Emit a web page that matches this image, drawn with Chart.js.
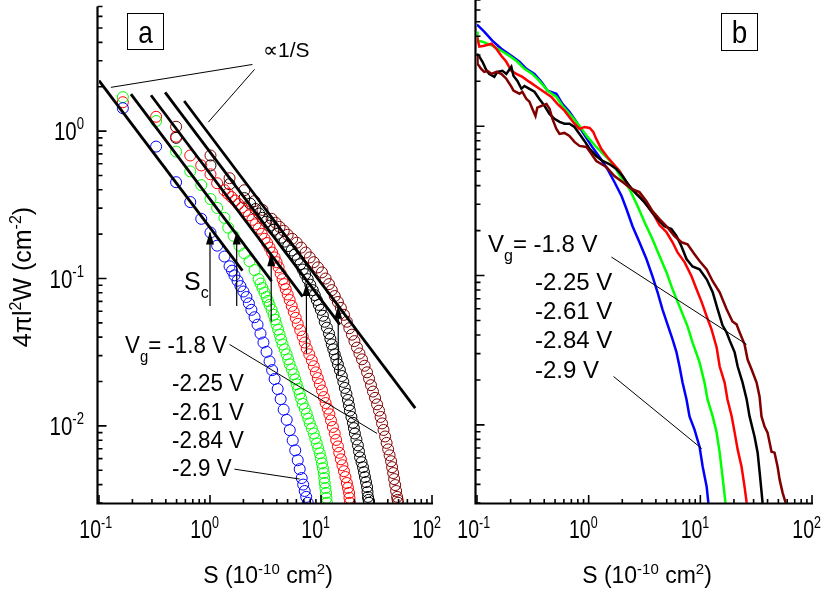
<!DOCTYPE html>
<html>
<head>
<meta charset="utf-8">
<script src="https://cdn.jsdelivr.net/npm/chart.js@4/dist/chart.umd.min.js"></script>
<style>
  body { margin: 0; background: #fff; }
  #wrap { position: relative; width: 830px; height: 591px; }
  canvas { position: absolute; top: 0; }
  #chartA { left: 0; }
  #chartB { left: 455px; }
</style>
</head>
<body>
<div id="wrap">
  <canvas id="chartA" width="455" height="591"></canvas>
  <canvas id="chartB" width="375" height="591"></canvas>
</div>
<script>
// ---- panel a : model curves (open circles), S in 1e-10 cm^2, W in cm^-2
const aBlueS = [0.164,0.327,0.495,0.664,0.834,1.01,1.16,1.35,1.50,1.58,1.66,1.77,1.88,2.00,2.13,2.24,2.36,2.52,2.68,2.85,3.03,3.23,3.44,3.63,3.82,4.07,4.33,4.61,4.91,5.23,5.56,5.86,6.17,6.43,6.70,6.91,7.13,7.36,7.59];
const aBlueW = [1.43,0.785,0.450,0.330,0.254,0.205,0.167,0.141,0.121,0.113,0.105,0.0966,0.0888,0.0816,0.0749,0.0678,0.0613,0.0546,0.0486,0.0423,0.0368,0.0318,0.0274,0.0239,0.0208,0.0178,0.0152,0.0129,0.0110,0.00936,0.00797,0.00683,0.00585,0.00509,0.00443,0.00400,0.00362,0.00330,0.00301];
const aGreenS = [0.164,0.327,0.495,0.664,0.834,1.01,1.16,1.35,1.46,1.63,1.84,2.04,2.27,2.52,2.74,2.85,2.97,3.10,3.23,3.33,3.44,3.59,3.74,3.86,3.98,4.11,4.24,4.37,4.51,4.70,4.90,5.06,5.22,5.45,5.68,5.86,6.04,6.23,6.43,6.63,6.84,7.14,7.44,7.68,7.93,8.27,8.61,8.88,9.16,9.45,9.75,9.97,10.2,10.4,10.6,10.7,10.8,10.95,11.1,11.2,11.3];
const aGreenW = [1.70,1.17,0.726,0.533,0.430,0.346,0.301,0.258,0.221,0.195,0.167,0.148,0.131,0.114,0.0989,0.0923,0.0861,0.0803,0.0749,0.0704,0.0662,0.0613,0.0567,0.0525,0.0486,0.0450,0.0416,0.0385,0.0357,0.0331,0.0306,0.0283,0.0262,0.0242,0.0224,0.0207,0.0192,0.0178,0.0165,0.0153,0.0141,0.0131,0.0121,0.0112,0.0104,0.00961,0.00888,0.00822,0.00761,0.00704,0.00652,0.00603,0.00558,0.00517,0.00479,0.00443,0.00410,0.00379,0.00351,0.00325,0.00301];
const aRedS = [0.164,0.327,0.495,0.664,0.834,1.01,1.16,1.35,1.45,1.56,1.68,1.80,1.94,2.08,2.24,2.41,2.57,2.74,2.92,3.10,3.27,3.44,3.63,3.82,3.98,4.15,4.33,4.51,4.66,4.81,5.01,5.22,5.45,5.68,5.92,6.17,6.50,6.84,7.14,7.44,7.84,8.26,8.61,8.98,9.36,9.75,10.2,10.6,11.0,11.5,11.9,12.3,12.8,13.3,13.7,14.2,14.6,15.1,15.6,16.1,16.6,17.1,17.5,17.9,18.05,18.2];
const aRedW = [1.57,1.25,0.916,0.683,0.585,0.509,0.443,0.397,0.376,0.357,0.338,0.320,0.303,0.287,0.268,0.250,0.233,0.218,0.201,0.186,0.174,0.162,0.150,0.139,0.129,0.119,0.108,0.0989,0.0916,0.0848,0.0779,0.0715,0.0652,0.0594,0.0541,0.0493,0.0446,0.0404,0.0368,0.0335,0.0306,0.0279,0.0254,0.0231,0.0211,0.0192,0.0174,0.0157,0.0143,0.0131,0.0120,0.0109,0.00984,0.00888,0.00803,0.00726,0.00657,0.00594,0.00541,0.00493,0.00450,0.00410,0.00380,0.00351,0.00325,0.00301];
const aBlackS = [0.495,1.01,1.50,2.04,2.30,2.57,2.77,2.97,3.20,3.44,3.75,4.06,4.37,4.70,5.06,5.44,5.80,6.17,6.50,6.84,7.20,7.59,8.00,8.43,8.79,9.16,9.55,9.96,10.4,10.8,11.3,11.8,12.15,12.5,12.9,13.3,13.75,14.2,14.8,15.4,15.9,16.4,16.95,17.5,17.85,18.2,18.8,19.4,19.8,20.2,20.85,21.5,22.0,22.5,23.2,23.9,24.4,24.9,25.45,26.0,26.25,26.5,26.8,27.1];
const aBlackW = [0.90,0.585,0.436,0.351,0.322,0.296,0.276,0.258,0.243,0.228,0.214,0.201,0.189,0.178,0.166,0.155,0.145,0.135,0.125,0.115,0.107,0.0989,0.0908,0.0834,0.0772,0.0715,0.0662,0.0613,0.0559,0.0509,0.0464,0.0423,0.0389,0.0357,0.0331,0.0306,0.0283,0.0262,0.0239,0.0218,0.0199,0.0181,0.0165,0.0150,0.0138,0.0127,0.0115,0.0105,0.00966,0.00888,0.00810,0.00738,0.00672,0.00612,0.00567,0.00525,0.00486,0.00450,0.00416,0.00385,0.00356,0.00330,0.00315,0.00301];
const aBrownS = [0.495,1.01,1.50,2.04,2.52,2.97,3.59,3.90,4.24,4.62,5.01,5.50,6.04,6.63,7.28,7.92,8.61,9.37,10.2,11.0,11.8,12.5,13.3,14.2,15.1,16.1,17.1,18.0,19.0,20.0,21.1,22.2,23.4,24.7,26.0,27.1,28.2,29.4,30.7,32.0,33.3,34.4,35.5,36.6,37.8,39.0,40.3,41.5,42.8,43.7,44.7,45.6,46.6,47.5,48.5,49.0,49.5];
const aBrownW = [1.07,0.683,0.479,0.397,0.335,0.292,0.254,0.239,0.224,0.211,0.198,0.186,0.175,0.162,0.150,0.139,0.129,0.119,0.110,0.100,0.0916,0.0834,0.0760,0.0693,0.0632,0.0567,0.0509,0.0460,0.0416,0.0376,0.0340,0.0310,0.0283,0.0256,0.0231,0.0209,0.0189,0.0171,0.0155,0.0140,0.0127,0.0115,0.0104,0.00939,0.00848,0.00767,0.00693,0.00632,0.00576,0.00525,0.00479,0.00436,0.00397,0.00362,0.00330,0.00315,0.00301];

// 1/S guide lines (start / end of each segment)
const fitS0 = [0.1, 0.194, 0.294, 0.394, 0.585];
const fitW0 = [2.2, 1.78, 1.75, 1.83, 1.60];
const fitS1 = [1.96, 3.59, 6.84, 14.8, 70.6];
const fitW1 = [0.113, 0.0961, 0.0753, 0.0487, 0.0132];

// S_c arrows
const scS = [1.0, 1.74, 3.56, 7.39, 14.3];
const scLow = [0.0652, 0.0652, 0.0509, 0.0310, 0.0221];
const scTip = [0.205, 0.205, 0.146, 0.0916, 0.0642];

// ---- panel b : measured distributions
const bBlueS = [0.1,0.116,0.137,0.165,0.203,0.240,0.277,0.327,0.378,0.428,0.514,0.582,0.673,0.778,0.880,1.06,1.25,1.47,1.70,1.97,2.18,2.47,2.85,3.29,3.73,4.14,4.58,5.08,5.64,6.12,6.51,6.93,7.52,8.00,8.87,9.84,10.5,11.4,11.8];
const bBlueW = [4.79,4.30,3.74,3.30,2.96,2.70,2.42,2.24,1.98,1.73,1.65,1.41,1.25,1.07,0.916,0.738,0.622,0.517,0.423,0.341,0.279,0.214,0.167,0.129,0.0989,0.0773,0.0594,0.0471,0.0374,0.0306,0.0246,0.0192,0.0148,0.0114,0.00930,0.00715,0.00525,0.00385,0.00301];
const bGreenS = [0.1,0.101,0.112,0.137,0.165,0.195,0.230,0.266,0.313,0.362,0.428,0.514,0.582,0.701,0.828,0.976,1.17,1.44,1.67,1.89,2.32,2.74,3.16,3.73,4.31,4.98,5.64,6.51,7.68,8.51,9.84,10.9,11.6,12.9,14.0,14.9,15.8,16.8];
const bGreenW = [4.30,3.74,3.68,3.46,3.20,2.96,2.70,2.42,2.24,2.01,1.73,1.57,1.37,1.17,1.005,0.848,0.726,0.622,0.550,0.471,0.380,0.292,0.228,0.175,0.135,0.105,0.0809,0.0622,0.0457,0.0357,0.0262,0.0192,0.0148,0.0114,0.00888,0.00652,0.00450,0.00301];
const bRedS = [0.1,0.105,0.116,0.135,0.149,0.165,0.183,0.203,0.225,0.255,0.295,0.341,0.385,0.464,0.525,0.607,0.673,0.746,0.828,0.917,1.02,1.10,1.17,1.30,1.47,1.67,1.89,2.14,2.47,2.85,3.36,3.89,4.31,4.98,5.64,6.25,7.22,8.34,9.25,10.3,11.4,12.6,14.0,14.9,16.5,17.5,19.1,20.3,21.6,23.4,24.9,26.0];
const bRedW = [3.97,3.41,3.46,3.57,3.30,2.96,2.70,2.35,2.24,2.14,1.98,1.84,1.73,1.57,1.41,1.27,1.15,1.04,0.959,0.989,0.974,0.916,0.822,0.704,0.622,0.558,0.501,0.430,0.374,0.341,0.292,0.250,0.218,0.195,0.167,0.143,0.123,0.0989,0.0809,0.0662,0.0533,0.0436,0.0330,0.0246,0.0192,0.0148,0.0114,0.00888,0.00683,0.00525,0.00385,0.00301];
const bBlackS = [0.1,0.105,0.112,0.122,0.129,0.143,0.152,0.169,0.183,0.203,0.212,0.230,0.250,0.266,0.295,0.327,0.362,0.402,0.446,0.494,0.548,0.607,0.673,0.746,0.828,0.917,1.02,1.17,1.33,1.53,1.77,2.01,2.32,2.68,3.16,3.65,4.13,4.77,5.51,6.11,6.77,7.52,8.51,9.84,11.4,12.9,14.3,15.8,17.2,18.3,20.3,21.6,23.9,26.0,27.6,30.6,32.6,34.0,35.4,36.1];
const bBlackW = [3.06,2.92,2.70,2.35,2.24,2.14,2.31,2.35,2.24,2.50,2.18,2.01,1.78,1.86,1.78,1.70,1.52,1.37,1.21,1.12,1.07,1.04,1.04,0.989,0.888,0.797,0.704,0.632,0.585,0.558,0.517,0.464,0.397,0.351,0.310,0.270,0.239,0.214,0.205,0.184,0.157,0.129,0.115,0.110,0.0944,0.0773,0.0594,0.0464,0.0416,0.0368,0.0306,0.0246,0.0192,0.0148,0.0114,0.00834,0.00652,0.00479,0.00351,0.00301];
const bBrownS = [0.1,0.101,0.109,0.116,0.124,0.135,0.149,0.165,0.183,0.203,0.212,0.240,0.255,0.277,0.295,0.313,0.334,0.347,0.378,0.419,0.446,0.474,0.514,0.548,0.607,0.673,0.746,0.828,0.955,1.06,1.17,1.44,1.70,2.01,2.42,2.85,3.29,3.73,4.31,4.98,5.87,6.78,7.68,8.87,9.84,11.4,12.9,14.9,17.2,19.4,21.1,22.5,24.9,26.5,28.8,31.9,33.9,35.3,37.6,40.0,43.4,46.2,49.2,51.3,54.6,58.1];
const bBrownW = [2.96,2.62,2.42,2.31,2.35,2.24,2.31,2.24,2.08,1.84,1.73,1.65,1.70,1.52,1.46,1.31,1.17,1.33,1.37,1.41,1.31,1.12,0.959,0.888,0.902,0.861,0.785,0.738,0.726,0.652,0.585,0.533,0.464,0.423,0.380,0.362,0.315,0.270,0.239,0.214,0.184,0.167,0.162,0.139,0.125,0.110,0.0916,0.0773,0.0594,0.0493,0.0471,0.0416,0.0346,0.0274,0.0235,0.0192,0.0155,0.0114,0.00975,0.00888,0.00662,0.00652,0.00525,0.00430,0.00351,0.00301];

// axis ticks
const xDecades = [0.1, 1, 10, 100];
const xExps = ['-1', '0', '1', '2'];
const yDecades = [0.001, 0.01, 0.1, 1];
const yExps = ['-3', '-2', '-1', '0'];

// annotation pointer lines [S0, W0, S1, W1]
const leadA = [[0.128, 1.98, 2.41, 2.83], [2.52, 2.62, 0.966, 1.15], [1.50, 0.0357, 32.0, 0.00889], [1.66, 0.00509, 6.43, 0.00436]];
const leadB = [[1.60, 0.133, 25.9, 0.0346], [1.67, 0.0211, 10.3, 0.00694]];

const voltages = ['-1.8 V', '-2.25 V', '-2.61 V', '-2.84 V', '-2.9 V'];

const COL = { blue: '#0000ff', green: '#00ff00', red: '#ff0000', black: '#000000', brown: '#800000' };
const FONT = '"Liberation Sans", Arial, sans-serif';

function pts(s, w) {
  const out = [];
  for (let i = 0; i < Math.min(s.length, w.length); i++) out.push({ x: s[i], y: w[i] });
  return out;
}

// text with sub/superscripts: parts = [[text, size, dy]]
function drawRich(ctx, x, y, parts, align, sx) {
  sx = sx || 1;
  let w = 0;
  parts.forEach(p => { ctx.font = p[1] + 'px ' + FONT; w += ctx.measureText(p[0]).width; });
  let cx = align === 'right' ? -w : align === 'center' ? -w / 2 : 0;
  ctx.save();
  ctx.translate(x, y);
  ctx.scale(sx, 1);
  ctx.textAlign = 'left';
  ctx.textBaseline = 'alphabetic';
  ctx.fillStyle = '#000';
  parts.forEach(p => {
    ctx.font = p[1] + 'px ' + FONT;
    ctx.fillText(p[0], cx, p[2] || 0);
    cx += ctx.measureText(p[0]).width;
  });
  ctx.restore();
}

function drawAxes(chart, withLabels) {
  const { ctx, chartArea: a } = chart;
  const xs = chart.scales.x, ys = chart.scales.y;
  const ax = a.left - 1.5, ay = a.bottom + 0.5;
  ctx.save();
  ctx.strokeStyle = '#000';
  ctx.lineWidth = 2.2;
  ctx.beginPath();
  ctx.moveTo(ax, a.top);
  ctx.lineTo(ax, ay);
  ctx.lineTo(a.right + 1, ay);
  ctx.stroke();

  ctx.lineWidth = 1.6;
  ctx.beginPath();
  xDecades.forEach((d, k) => {
    for (let m = 1; m <= 9; m++) {
      const v = d * m;
      if (v < xs.min * 0.999 || v > xs.max * 1.001) continue;
      const px = xs.getPixelForValue(v);
      ctx.moveTo(px, ay);
      ctx.lineTo(px, ay - (m === 1 ? 8.5 : 4.5));
      if (m === 1) {
        ctx.save();
        ctx.font = '25px ' + FONT;
        const w10 = ctx.measureText('10').width * 0.78;
        ctx.restore();
        drawRich(ctx, px + 2 - w10, 538, [['10', 25], [xExps[k], 16, -10]], 'left', 0.78);
      }
    }
  });
  yDecades.forEach((d, k) => {
    for (let m = 1; m <= 9; m++) {
      const v = d * m;
      if (v < ys.min * 0.999 || v > ys.max * 1.001) continue;
      const py = ys.getPixelForValue(v);
      ctx.moveTo(ax, py);
      ctx.lineTo(ax + (m === 1 ? 9 : 5), py);
      if (m === 1 && withLabels) {
        drawRich(ctx, a.left - 15, py + 9, [['10', 25], [yExps[k], 16, -11]], 'right', 0.82);
      }
    }
  });
  ctx.stroke();
  ctx.restore();
}

function drawLeaders(chart, list) {
  const { ctx } = chart;
  const xs = chart.scales.x, ys = chart.scales.y;
  ctx.save();
  ctx.strokeStyle = '#000';
  ctx.lineWidth = 1;
  list.forEach(l => {
    ctx.beginPath();
    ctx.moveTo(xs.getPixelForValue(l[0]), ys.getPixelForValue(l[1]));
    ctx.lineTo(xs.getPixelForValue(l[2]), ys.getPixelForValue(l[3]));
    ctx.stroke();
  });
  ctx.restore();
}

function drawBox(ctx, x, y, w, h, label, size, sx) {
  ctx.save();
  ctx.strokeStyle = '#000';
  ctx.lineWidth = 1;
  ctx.strokeRect(x + 0.5, y + 0.5, w, h);
  ctx.restore();
  drawRich(ctx, x + w / 2 + 0.5, y + 30, [[label, size]], 'center', sx);
}

function drawXTitle(ctx, cx) {
  drawRich(ctx, cx, 583, [['S (10', 23], ['-10', 15, -9], [' cm', 23], ['2', 15, -9], [')', 23]], 'center', 1);
}

function drawLegend(ctx, x0, y0, x1, ys, sx) {
  drawRich(ctx, x0, y0, [['V', 24], ['g', 16, 9], ['= ' + voltages[0], 24]], 'left', sx);
  for (let i = 1; i < voltages.length; i++) {
    drawRich(ctx, x1, ys[i - 1], [[voltages[i], 24]], 'left', sx);
  }
}

const decorA = {
  id: 'decorA',
  afterDatasetsDraw(chart) {
    const { ctx } = chart;
    const xs = chart.scales.x, ys = chart.scales.y;
    ctx.save();
    ctx.fillStyle = '#000';
    scS.forEach((s, i) => {
      const px = xs.getPixelForValue(s), py = ys.getPixelForValue(scTip[i]);
      ctx.beginPath();
      ctx.moveTo(px, py - 1);
      ctx.lineTo(px - 4, py + 12);
      ctx.lineTo(px + 4, py + 12);
      ctx.closePath();
      ctx.fill();
    });
    ctx.restore();
  },
  afterDraw(chart) {
    const { ctx } = chart;
    drawAxes(chart, true);
    drawLeaders(chart, leadA);
    drawBox(ctx, 127, 13, 36, 36, 'a', 32, 0.82);
    drawRich(ctx, 263, 57, [['\u221D1/S', 21]], 'left', 1);
    drawRich(ctx, 184, 290, [['S', 25], ['c', 16, 8]], 'left', 1);
    drawLegend(ctx, 125, 353, 172, [391, 420, 448, 476], 0.93);
    drawXTitle(ctx, 268);
    ctx.save();
    ctx.translate(31, 277);
    ctx.rotate(-Math.PI / 2);
    drawRich(ctx, 0, 0, [['4\u03C0l', 25], ['2', 16, -10], ['W (cm', 25], ['-2', 16, -10], [')', 25]], 'center', 1);
    ctx.restore();
  }
};

const decorB = {
  id: 'decorB',
  afterDraw(chart) {
    const { ctx } = chart;
    drawAxes(chart, false);
    drawLeaders(chart, leadB);
    drawBox(ctx, 266, 13, 36, 37, 'b', 31, 0.9);
    drawLegend(ctx, 33, 252, 80, [290, 319, 348, 378], 1);
    drawXTitle(ctx, 192);
  }
};

function baseOptions(yWidth, padRight) {
  return {
    responsive: false,
    animation: false,
    devicePixelRatio: 1,
    events: [],
    layout: { padding: { left: 0, right: padRight, top: 0, bottom: 0 } },
    plugins: { legend: { display: false }, tooltip: { enabled: false } },
    scales: {
      x: {
        type: 'logarithmic', min: 0.1, max: 100,
        grid: { display: false }, border: { display: false }, ticks: { display: false },
        afterFit: s => { s.height = 88; }
      },
      y: {
        type: 'logarithmic', min: 0.003, max: 7,
        grid: { display: false }, border: { display: false }, ticks: { display: false },
        afterFit: s => { s.width = yWidth; }
      }
    }
  };
}

function circles(s, w, color, order) {
  return {
    data: pts(s, w), order: order, clip: 0,
    pointStyle: 'circle', pointRadius: 5.5, pointBorderWidth: 1,
    pointBorderColor: color, pointBackgroundColor: 'rgba(0,0,0,0)'
  };
}

function curve(s, w, color, width, order) {
  return {
    data: pts(s, w), order: order, clip: 0, showLine: true,
    borderColor: color, borderWidth: width, pointRadius: 0, tension: 0
  };
}

// panel a
const dsA = [
  circles(aBlueS, aBlueW, COL.blue, 10),
  circles(aGreenS, aGreenW, COL.green, 11),
  circles(aRedS, aRedW, COL.red, 12),
  circles(aBlackS, aBlackW, COL.black, 13),
  circles(aBrownS, aBrownW, COL.brown, 14)
];
fitS0.forEach((s, i) => {
  dsA.push(curve([s, fitS1[i]], [fitW0[i], fitW1[i]], '#000', 2.8, 5));
});
scS.forEach((s, i) => {
  dsA.push(curve([s, s], [scLow[i], scTip[i]], '#000', 1.2, 1));
});

new Chart(document.getElementById('chartA'), {
  type: 'scatter',
  data: { datasets: dsA },
  options: baseOptions(99, 23),
  plugins: [decorA]
});

// panel b
new Chart(document.getElementById('chartB'), {
  type: 'scatter',
  data: {
    datasets: [
      curve(bBrownS, bBrownW, COL.brown, 2.5, 1),
      curve(bBlackS, bBlackW, COL.black, 2.5, 2),
      curve(bRedS, bRedW, COL.red, 2.5, 3),
      curve(bGreenS, bGreenW, COL.green, 2.5, 4),
      curve(bBlueS, bBlueW, COL.blue, 2.5, 5)
    ]
  },
  options: baseOptions(22, 18),
  plugins: [decorB]
});
</script>
</body>
</html>
